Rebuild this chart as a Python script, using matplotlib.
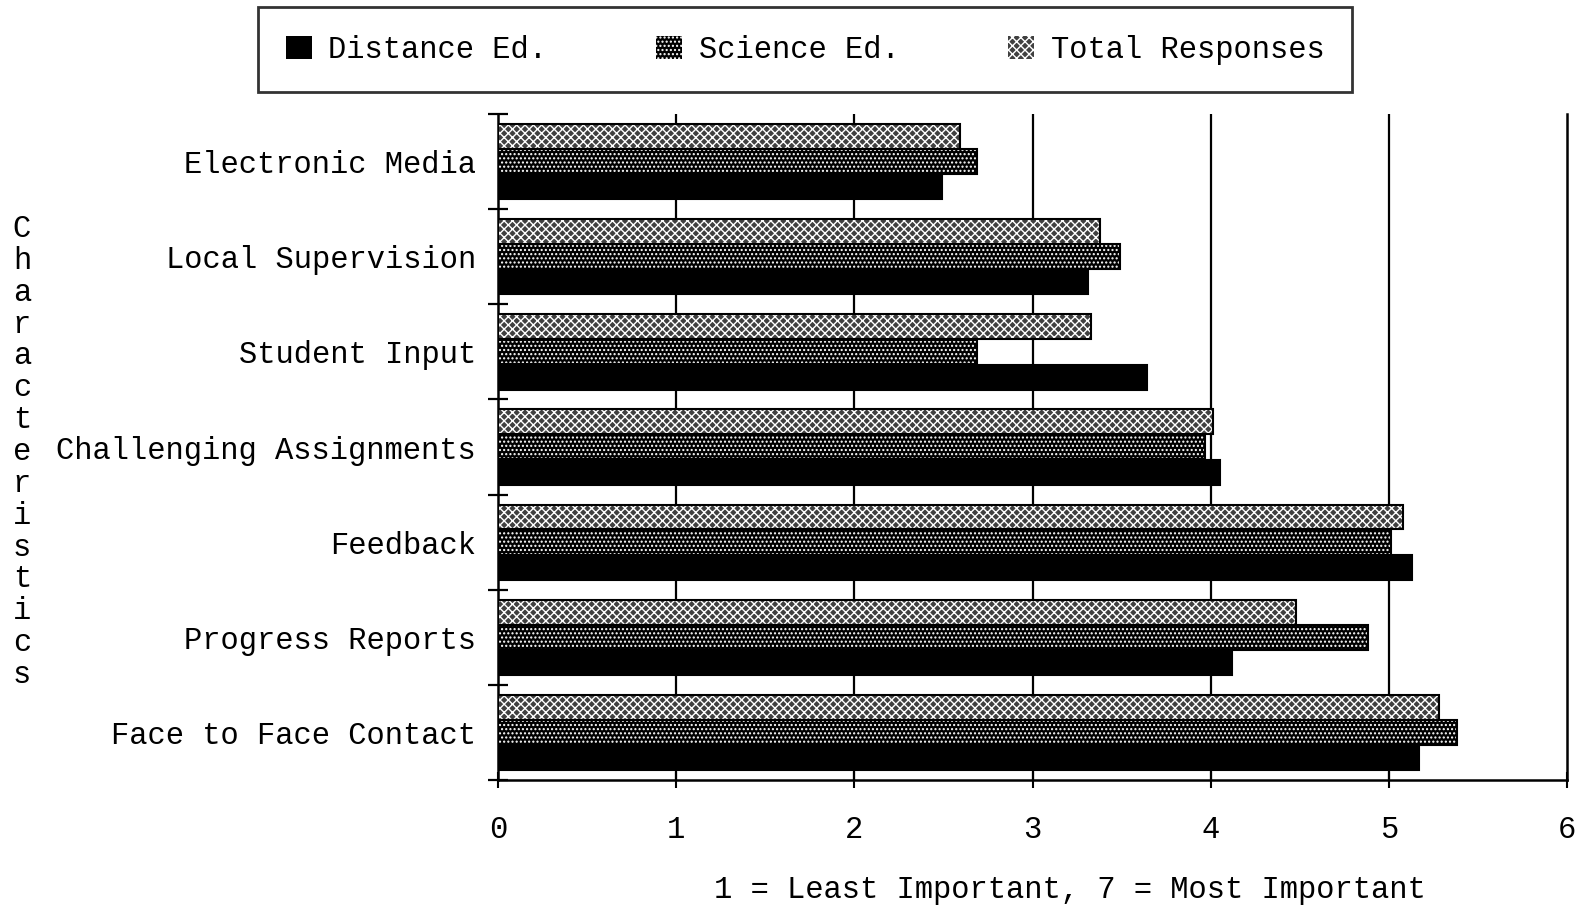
import matplotlib
matplotlib.use("Agg")
import matplotlib.pyplot as plt
import numpy as np
from matplotlib.patches import Patch

# characteristics, top to bottom
categories = ["Electronic Media", "Local Supervision", "Student Input",
              "Challenging Assignments", "Feedback", "Progress Reports",
              "Face to Face Contact"]
distance_ed = [2.49, 3.31, 3.64, 4.05, 5.13, 4.12, 5.17]
science_ed = [2.69, 3.49, 2.69, 3.97, 5.01, 4.88, 5.38]
total_resp = [2.59, 3.38, 3.33, 4.01, 5.08, 4.48, 5.28]
series_names = ["Distance Ed.", "Science Ed.", "Total Responses"]
x_ticks = [0, 1, 2, 3, 4, 5, 6]
x_label = "1 = Least Important, 7 = Most Important"
y_label = "Characteristics"

plt.rcParams["font.family"] = ["Liberation Mono", "DejaVu Sans Mono"]
plt.rcParams["hatch.linewidth"] = 1.0
FS = 22

fig = plt.figure(figsize=(15.83, 9.05), dpi=100)
ax = fig.add_axes([0.3146, 0.138, 0.6754, 0.736])

y = np.arange(len(categories))
h = 0.26
styles = {
    "Distance Ed.": dict(color="black", edgecolor="black", hatch=None),
    "Science Ed.": dict(color="black", edgecolor="white", hatch="...."),
    "Total Responses": dict(color="#404040", edgecolor="white", hatch="xxxx"),
}
for vals, name, off in [(total_resp, "Total Responses", -0.265),
                        (science_ed, "Science Ed.", 0.0),
                        (distance_ed, "Distance Ed.", 0.265)]:
    st = styles[name]
    ax.barh(y + off, vals, height=h, color=st["color"], edgecolor=st["edgecolor"],
            hatch=st["hatch"], linewidth=0, zorder=3)
    ax.barh(y + off, vals, height=h, fill=False, edgecolor="black",
            linewidth=1.5, zorder=4)

ax.set_xlim(0, 6)
ax.set_ylim(len(categories) - 0.5, -0.5)
for v in x_ticks[1:-1]:
    ax.axvline(v, color="black", lw=1.6, zorder=2)

ax.spines["top"].set_visible(False)
for s in ["left", "bottom", "right"]:
    ax.spines[s].set_linewidth(1.8)

ax.set_xticks(x_ticks)
ax.set_xticklabels([str(t) for t in x_ticks], fontsize=FS)
ax.tick_params(axis="x", direction="inout", length=12, width=1.5, pad=19)
ax.set_yticks(y)
ax.set_yticklabels(categories, fontsize=FS)
ax.tick_params(axis="y", which="major", length=0, pad=16)
ax.set_yticks(np.arange(-0.5, len(categories) + 0.5, 1), minor=True)
ax.tick_params(axis="y", which="minor", direction="inout", length=14, width=1.6)

fig.text(1070 / 1583, 1 - 890 / 905, x_label, fontsize=FS, ha="center", va="center")
fig.text(22 / 1583, 1 - 452 / 905, "\n".join(y_label), fontsize=FS,
         ha="center", va="center", linespacing=1.08, multialignment="center")

handles = []
for name in series_names:
    st = styles[name]
    handles.append(Patch(facecolor=st["color"], edgecolor=st["edgecolor"],
                         hatch=st["hatch"], linewidth=0))
leg = fig.legend(handles, series_names, loc="center", ncol=3,
                 bbox_to_anchor=(805 / 1583, 1 - 50 / 905), fontsize=FS,
                 frameon=True, fancybox=False, handlelength=0.85,
                 handleheight=0.8, handletextpad=0.55, columnspacing=3.55,
                 borderpad=0.9)
leg.get_frame().set_edgecolor("black")
leg.get_frame().set_linewidth(2.0)

fig.savefig("out.png", dpi=100)
